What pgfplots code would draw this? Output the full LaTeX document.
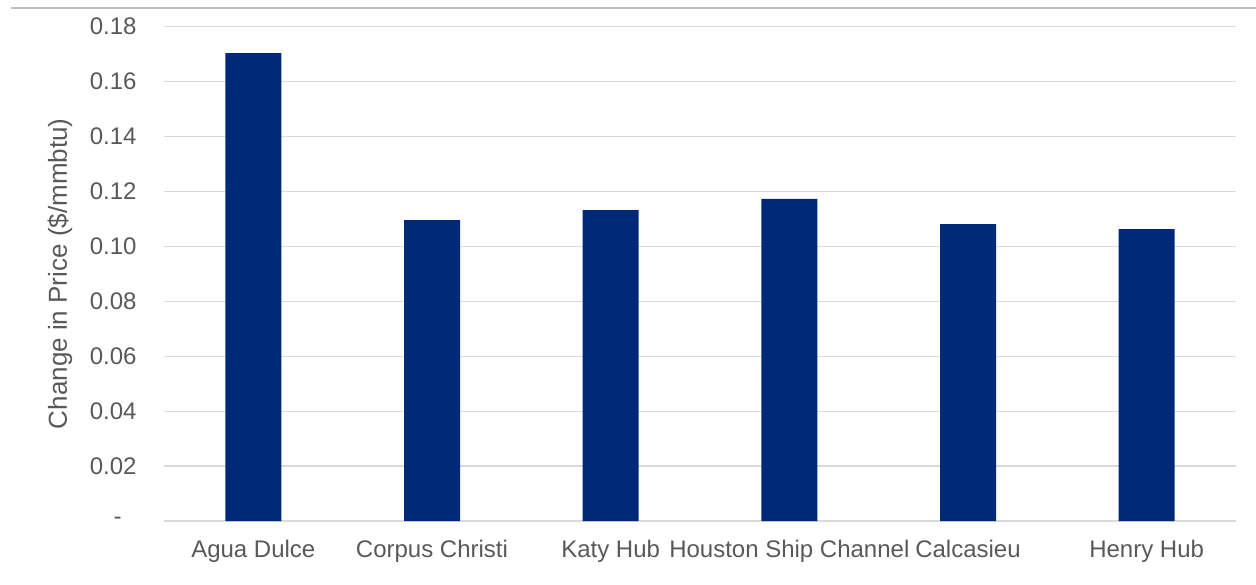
\documentclass[border=0pt]{standalone}
\usepackage{fontspec}
\setmainfont{Liberation Sans}
\usepackage{pgfplots}
\pgfplotsset{compat=1.18}
\definecolor{barblue}{HTML}{002A78}
\definecolor{txtgray}{HTML}{595959}
\definecolor{gridgray}{HTML}{D9D9D9}
\definecolor{topgray}{HTML}{BFBFBF}
\begin{document}
\begin{tikzpicture}
\path[use as bounding box] (-82pt,-31.5pt) rectangle (546pt,260.5pt);
\draw[topgray, line width=0.6pt] (-76.5pt,256.5pt) -- (546pt,256.5pt);
\begin{axis}[
  at={(0pt,0pt)}, anchor=south west,
  scale only axis,
  width=536pt, height=247.25pt,
  xmin=-0.5, xmax=5.5,
  ymin=0, ymax=0.18,
  enlargelimits=false,
  axis line style={draw=none},
  ymajorgrids, grid style={gridgray, line width=0.6pt},
  xtick={0,1,2,3,4,5},
  xticklabels={Agua Dulce, Corpus Christi, Katy Hub, Houston Ship Channel, Calcasieu, Henry Hub},
  ytick={0,0.02,0.04,0.06,0.08,0.10,0.12,0.14,0.16,0.18},
  yticklabels={-\rule{7.5pt}{0pt},0.02,0.04,0.06,0.08,0.10,0.12,0.14,0.16,0.18},
  major tick length=0pt,
  tick style={draw=none},
  ticklabel style={font=\fontsize{12}{14}\selectfont, text=txtgray},
  yticklabel style={anchor=east, inner sep=0pt, xshift=-13.5pt},
  xticklabel style={anchor=base, inner sep=0pt, yshift=-18pt},
  ylabel={Change in Price (\$/mmbtu)},
  ylabel style={at={(axis description cs:-0.097,0.5)}, anchor=center, font=\fontsize{13}{15}\selectfont, text=txtgray},
  clip=false,
]
\addplot[ybar, bar width=28pt, fill=barblue, draw=none] coordinates {
  (0,0.1703) (1,0.1095) (2,0.1132) (3,0.1173) (4,0.1081) (5,0.1062)
};
\end{axis}
\end{tikzpicture}
\end{document}
